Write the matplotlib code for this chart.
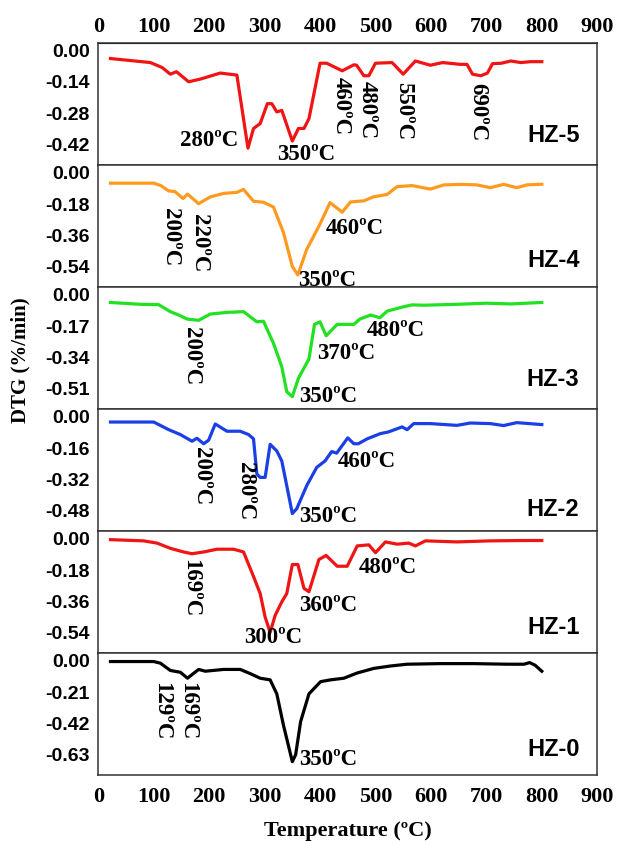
import matplotlib
matplotlib.use("Agg")
import matplotlib.pyplot as plt

# ---- data (temperature in degC, DTG in %/min) ----
t_hz5 = [22, 94, 115, 130, 141, 163, 184, 220, 250, 270, 280, 292, 305, 313, 322, 331, 350, 361,
         371, 380, 400, 412, 440, 461, 466, 479, 488, 500, 530, 550, 572, 599, 621, 653, 665, 675,
         690, 702, 711, 727, 744, 762, 780, 800]
d_hz5 = [-0.035, -0.053, -0.075, -0.105, -0.094, -0.139, -0.127, -0.100, -0.109, -0.436, -0.348,
         -0.326, -0.237, -0.237, -0.274, -0.267, -0.404, -0.348, -0.348, -0.304, -0.056, -0.056,
         -0.090, -0.063, -0.065, -0.112, -0.112, -0.056, -0.053, -0.105, -0.046, -0.065, -0.053,
         -0.061, -0.061, -0.105, -0.112, -0.100, -0.058, -0.056, -0.046, -0.053, -0.049, -0.049]

t_hz4 = [22, 100, 113, 127, 138, 153, 161, 181, 202, 226, 250, 262, 280, 298, 316, 334, 350, 360,
         376, 400, 418, 440, 455, 479, 496, 521, 539, 566, 599, 624, 657, 683, 707, 731, 755, 773, 800]
d_hz4 = [-0.060, -0.060, -0.074, -0.105, -0.108, -0.148, -0.123, -0.178, -0.139, -0.119, -0.113,
         -0.096, -0.164, -0.170, -0.197, -0.344, -0.539, -0.588, -0.441, -0.295, -0.172, -0.227,
         -0.168, -0.162, -0.139, -0.125, -0.080, -0.074, -0.094, -0.070, -0.067, -0.070, -0.086,
         -0.067, -0.086, -0.070, -0.066]

t_hz3 = [22, 76, 109, 130, 145, 160, 181, 202, 232, 262, 286, 298, 316, 331, 340, 350, 361, 380,
         390, 400, 411, 431, 461, 472, 491, 508, 521, 551, 566, 587, 647, 700, 744, 800]
d_hz3 = [-0.042, -0.052, -0.054, -0.092, -0.110, -0.132, -0.139, -0.105, -0.096, -0.092, -0.147,
         -0.144, -0.264, -0.391, -0.527, -0.554, -0.454, -0.349, -0.161, -0.147, -0.223, -0.161,
         -0.161, -0.132, -0.110, -0.125, -0.089, -0.065, -0.055, -0.057, -0.052, -0.046, -0.050,
         -0.042]

t_hz2 = [22, 100, 127, 148, 169, 178, 190, 199, 211, 232, 256, 271, 280, 286, 292, 301, 310, 322,
         331, 350, 358, 376, 394, 409, 421, 430, 450, 461, 469, 485, 509, 523, 548, 557, 569, 599,
         647, 671, 707, 731, 755, 800]
d_hz2 = [-0.027, -0.027, -0.066, -0.091, -0.125, -0.110, -0.138, -0.120, -0.037, -0.074, -0.074,
         -0.091, -0.113, -0.293, -0.310, -0.310, -0.141, -0.175, -0.226, -0.495, -0.470, -0.352,
         -0.259, -0.226, -0.178, -0.186, -0.108, -0.138, -0.138, -0.113, -0.086, -0.078, -0.052,
         -0.066, -0.035, -0.035, -0.044, -0.032, -0.035, -0.045, -0.030, -0.040]

t_hz1 = [22, 82, 106, 130, 154, 169, 190, 214, 244, 262, 280, 292, 301, 310, 319, 331, 340, 350,
         360, 371, 380, 398, 411, 431, 449, 467, 488, 500, 518, 539, 560, 572, 590, 647, 707, 767, 800]
d_hz1 = [-0.005, -0.012, -0.025, -0.055, -0.076, -0.086, -0.076, -0.060, -0.060, -0.076, -0.217,
         -0.315, -0.451, -0.539, -0.441, -0.363, -0.315, -0.148, -0.148, -0.285, -0.305, -0.119,
         -0.096, -0.158, -0.158, -0.041, -0.035, -0.080, -0.018, -0.031, -0.025, -0.041, -0.012,
         -0.018, -0.012, -0.010, -0.010]

t_hz0 = [22, 100, 112, 130, 148, 161, 169, 181, 193, 226, 256, 274, 292, 310, 322, 334, 350, 356,
         365, 380, 401, 419, 443, 467, 497, 527, 557, 617, 677, 738, 768, 778, 788, 800]
d_hz0 = [-0.005, -0.005, -0.016, -0.065, -0.077, -0.117, -0.093, -0.058, -0.070, -0.058, -0.058,
         -0.086, -0.117, -0.128, -0.222, -0.432, -0.677, -0.630, -0.408, -0.222, -0.140, -0.128,
         -0.117, -0.082, -0.051, -0.035, -0.023, -0.019, -0.019, -0.023, -0.023, -0.012, -0.030,
         -0.070]

samples = ["HZ-5", "HZ-4", "HZ-3", "HZ-2", "HZ-1", "HZ-0"]
temps = [t_hz5, t_hz4, t_hz3, t_hz2, t_hz1, t_hz0]
dtgs = [d_hz5, d_hz4, d_hz3, d_hz2, d_hz1, d_hz0]
steps = [0.14, 0.18, 0.17, 0.16, 0.18, 0.21]
colors = ["#f01414", "#ff9a1f", "#22e022", "#1a3fe6", "#f01414", "#000000"]

# peak labels: (text, x, y, rotated)
peaks = [
    [("280ºC", 148, -0.40, False), ("350ºC", 322, -0.464, False), ("460ºC", 439, -0.248, True),
     ("480ºC", 485, -0.267, True), ("550ºC", 551, -0.27, True), ("690ºC", 685, -0.274, True)],
    [("200ºC", 130, -0.368, True), ("220ºC", 182, -0.407, True), ("460ºC", 410, -0.319, False),
     ("350ºC", 361, -0.62, False)],
    [("200ºC", 169, -0.331, True), ("480ºC", 484, -0.193, False), ("370ºC", 395, -0.319, False),
     ("350ºC", 362, -0.554, False)],
    [("200ºC", 187, -0.303, True), ("280ºC", 265, -0.381, True), ("460ºC", 432, -0.23, False),
     ("350ºC", 362, -0.51, False)],
    [("169ºC", 166, -0.285, True), ("480ºC", 470, -0.168, False), ("360ºC", 363, -0.383, False),
     ("300ºC", 263, -0.568, False)],
    [("129ºC", 115, -0.34, True), ("169ºC", 161, -0.34, True), ("350ºC", 362, -0.665, False)],
]
name_y = [-0.38, -0.507, -0.46, -0.475, -0.51, -0.595]

serif = "Liberation Serif"
sans = "Liberation Sans"

fig, axes = plt.subplots(6, 1, figsize=(6.3, 8.41), dpi=100, sharex=True)
fig.subplots_adjust(left=0.156, right=0.948, top=0.949, bottom=0.0785, hspace=0)

for i, ax in enumerate(axes):
    s = steps[i]
    ax.plot(temps[i], dtgs[i], color=colors[i], lw=2.3)
    ax.set_xlim(0, 900)
    ax.set_ylim(-3.65 * s, 0.25 * s)
    ax.set_yticks([0, -s, -2 * s, -3 * s])
    ax.set_yticklabels([f"{v:.2f}" for v in [0, -s, -2 * s, -3 * s]],
                       fontfamily=sans, fontweight="bold", fontsize=14)
    ax.tick_params(length=0, pad=6)
    for sp in ax.spines.values():
        sp.set_color("#333333")
        sp.set_linewidth(1.1)
    for txt, x, y, rot in peaks[i]:
        if rot:
            ax.text(x, y, txt, rotation=270, ha="center", va="center",
                    fontfamily=serif, fontweight="bold", fontsize=16.5)
        else:
            ax.text(x, y, txt, ha="left", va="center",
                    fontfamily=serif, fontweight="bold", fontsize=16.5)
    ax.text(868, name_y[i], samples[i], ha="right", va="center",
            fontfamily=sans, fontweight="bold", fontsize=17)

xt = list(range(0, 1000, 100))
axes[-1].set_xticks(xt)
axes[-1].set_xticklabels([str(v) for v in xt], fontfamily=serif, fontweight="bold", fontsize=16)
axes[-1].tick_params(axis="x", pad=9)
top = axes[0].secondary_xaxis("top")
top.set_xticks(xt)
top.set_xticklabels([str(v) for v in xt], fontfamily=serif, fontweight="bold", fontsize=16)
top.tick_params(length=0, pad=4)

fig.text(0.032, 0.572, "DTG (%/min)", rotation=90, ha="center", va="center",
         fontfamily=serif, fontweight="bold", fontsize=15)
fig.text(0.552, 0.012, "Temperature (ºC)", ha="center", va="center",
         fontfamily=serif, fontweight="bold", fontsize=16)

fig.savefig("out.png", dpi=100)
